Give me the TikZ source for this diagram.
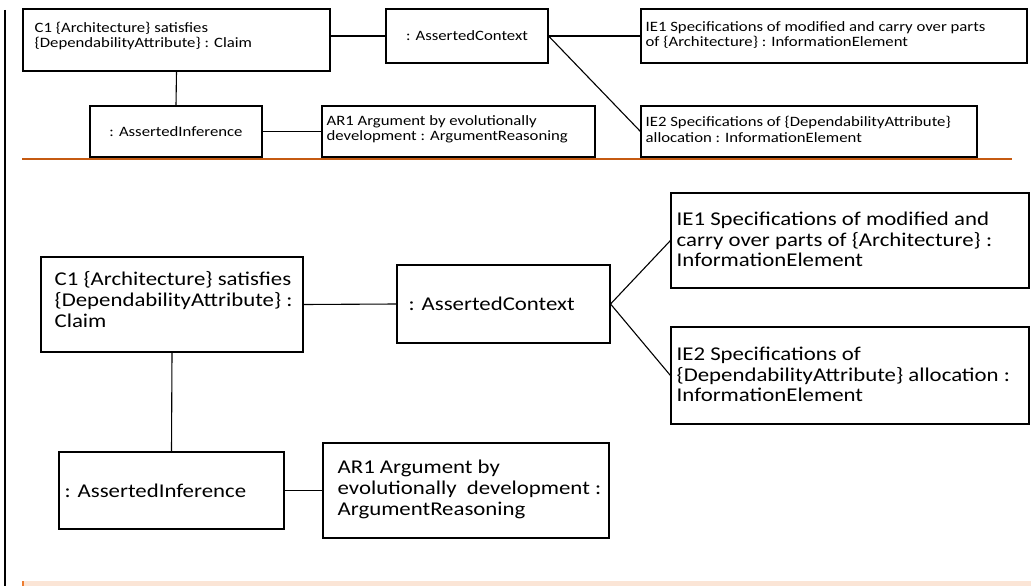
\documentclass[tikz,border=0pt]{standalone}
\usepackage{fontspec}
\setmainfont{Carlito}
\newfontfamily\dfont[FakeStretch=1.17]{Carlito}
\definecolor{rule}{HTML}{C55A11}
\definecolor{peach}{HTML}{FBE5D6}
\definecolor{peachedge}{HTML}{ED7D31}
\tikzset{
  bx/.style={draw=black, line width=1.1pt, rectangle, inner sep=0pt, fill=white},
  conn/.style={draw=black, line width=1.1pt},
  tb/.style={inner sep=0pt, align=left, font=\dfont\fontsize{19.5}{20.7}\selectfont},
  tt/.style={inner sep=0pt, align=left, font=\dfont\fontsize{14.3}{15.5}\selectfont},
}
\begin{document}
\begin{tikzpicture}[x=1pt, y=-1pt]
\useasboundingbox (0,0) rectangle (1031,586);
% left bar
\coordinate (barT) at (4.5,10);
\coordinate (barB) at (4.5,586);
\draw[line width=2pt] (barT) -- (barB);

% ---------- top (small) diagram ----------
\node[bx, minimum width=307pt, minimum height=62pt] (c1t) at (176.5,40) {};
\node[tt, anchor=west] (c1tt) at ([xshift=12pt, yshift=4pt]c1t.west) {C1 \{Architecture\} satisfies\\\{DependabilityAttribute\} : Claim};
\node[bx, minimum width=162pt, minimum height=54pt, font=\dfont\fontsize{14.3}{15.5}\selectfont] (act) at (467,36) {: AssertedContext};
\node[bx, minimum width=386pt, minimum height=54pt] (ie1t) at (834,36) {};
\node[tt, anchor=west] (ie1tt) at ([xshift=5pt, yshift=1pt]ie1t.west) {IE1 Specifications of modified and carry over parts\\of \{Architecture\} : InformationElement};
\node[bx, minimum width=172pt, minimum height=51pt, font=\dfont\fontsize{14.3}{15.5}\selectfont] (ait) at (176,131.5) {: AssertedInference};
\node[bx, minimum width=273pt, minimum height=51pt] (art) at (458.5,131.5) {};
\node[tt, anchor=west] (artt) at ([xshift=5pt, yshift=2pt]art.west) {AR1 Argument by evolutionally\\development : ArgumentReasoning};
\node[bx, minimum width=336pt, minimum height=51pt] (ie2t) at (809,131.5) {};
\node[tt, anchor=west] (ie2tt) at ([xshift=5pt, yshift=2pt]ie2t.west) {IE2 Specifications of \{DependabilityAttribute\}\\allocation : InformationElement};

\draw[conn] (act.west) -- (act.west -| c1t.east);
\draw[conn] (c1t.south) -- (ait.north);
\draw[conn] (ait.east) -- (art.west);
\draw[conn] (act.east) -- (ie1t.west);
\draw[conn] (act.east) -- (ie2t.west);

% orange rule
\coordinate (ruleL) at (22,159);
\coordinate (ruleR) at (1012,159);
\draw[rule, line width=2pt] (ruleL) -- (ruleR);

% ---------- bottom (large) diagram ----------
\node[bx, minimum width=262pt, minimum height=95pt] (c1b) at (172,304.5) {};
\node[tb, anchor=west] (c1bt) at ([xshift=14pt, yshift=5pt]c1b.west) {C1 \{Architecture\} satisfies\\\{DependabilityAttribute\} :\\Claim};
\node[bx, minimum width=213pt, minimum height=78pt] (acb) at (503.5,304) {};
\node[tb, anchor=west] (acbt) at ([xshift=12pt]acb.west) {: AssertedContext};
\node[bx, minimum width=358pt, minimum height=95pt] (ie1b) at (850,240.5) {};
\node[tb, anchor=west] (ie1bt) at ([xshift=6pt, yshift=1pt]ie1b.west) {IE1 Specifications of modified and\\carry over parts of \{Architecture\} :\\InformationElement};
\node[bx, minimum width=358pt, minimum height=97pt] (ie2b) at (850,375.5) {};
\node[tb, anchor=west] (ie2bt) at ([xshift=6pt, yshift=1pt]ie2b.west) {IE2 Specifications of\\\{DependabilityAttribute\} allocation :\\InformationElement};
\node[bx, minimum width=225pt, minimum height=77pt] (aib) at (171.5,490.5) {};
\node[tb, anchor=west] (aibt) at ([xshift=6pt]aib.west) {: AssertedInference};
\node[bx, minimum width=286pt, minimum height=95pt] (arb) at (466,490.5) {};
\node[tb, anchor=west] (arbt) at ([xshift=15pt, yshift=1pt]arb.west) {AR1 Argument by\\evolutionally~ development :\\ArgumentReasoning};

\draw[conn] (c1b.east) -- (acb.west);
\draw[conn] (c1b.south) -- (aib.north);
\draw[conn] (aib.east) -- (arb.west);
\draw[conn] (acb.east) -- (ie1b.west);
\draw[conn] (acb.east) -- (ie2b.west);

% peach band
\fill[peach] (22,581) rectangle (1031,586);
\fill[peachedge] (22,581) rectangle (24,586);
\end{tikzpicture}
\end{document}
